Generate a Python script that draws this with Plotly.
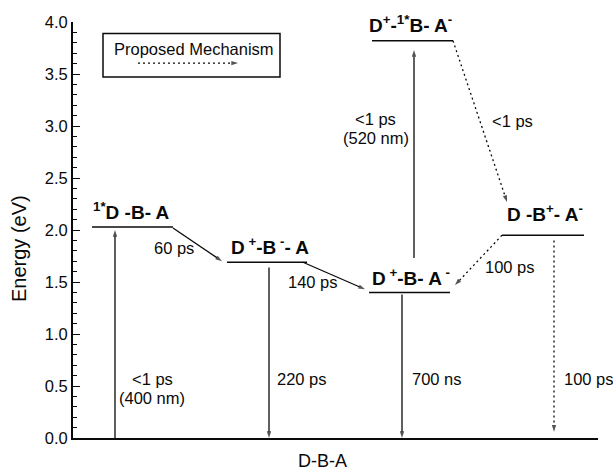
import plotly.graph_objects as go

# ---- energy-level data (eV) ----
state_labels = [
    "<sup>1*</sup>D -B- A",
    "D<sup> +</sup>-B<sup> -</sup>- A",
    "D<sup> +</sup>-B- A<sup> -</sup>",
    "D<sup>+</sup>-<sup>1*</sup>B- A<sup>-</sup>",
    "D -B<sup>+</sup>- A<sup>-</sup>",
]
state_energy = [2.03, 1.69, 1.40, 3.82, 1.95]

# transitions between states (-1 = ground state at 0 eV)
trans_from = [-1, 0, 1, 1, 2, 2, 3, 4, 4]
trans_to = [0, 1, -1, 2, -1, 3, 4, 2, -1]
trans_time = ["<1 ps", "60 ps", "220 ps", "140 ps", "700 ns", "<1 ps", "<1 ps", "100 ps", "100 ps"]
trans_wavelength = ["(400 nm)", "", "", "", "", "(520 nm)", "", "", ""]
trans_proposed = [False, False, False, False, False, False, True, True, True]

# ---- drawing layout ----
X_RANGE = [0, 5.25]
Y_RANGE = [0, 4.0]
state_x0 = [0.19, 1.54, 2.96, 2.99, 4.29]
state_x1 = [1.00, 2.34, 3.77, 3.80, 5.11]
state_label_x = [0.58, 1.97, 3.38, 3.37, 4.72]
state_label_shift = [2, 2, 1, 3, 8]

# arrow x positions (start, end) and gaps from the levels they connect
arrow_x0 = [0.42, 1.00, 1.96, 2.30, 3.29, 3.41, 3.80, 4.29, 4.81]
arrow_x1 = [0.42, 1.49, 1.96, 2.92, 3.29, 3.41, 4.34, 3.82, 4.81]
arrow_gap0 = [0.0, -0.01, -0.05, 0.0, -0.02, 0.33, 0.0, 0.0, -0.05]
arrow_gap1 = [-0.03, 0.01, 0.0, 0.03, 0.0, -0.09, 0.32, 0.07, 0.06]

# time-constant label positions
label_x = [0.79, 1.01, 2.02, 2.40, 3.37, 3.025, 4.17, 4.10, 4.89]
label_y = [0.57, 1.83, 0.57, 1.50, 0.57, 3.07, 3.05, 1.64, 0.57]
label_anchor = ["center", "center", "left", "center", "left", "center", "left", "left", "left"]
note_dy = 0.19

FONT = "Liberation Sans, Arial, sans-serif"
INK = "#0a0a0a"


def level_energy(i):
    return 0.0 if i < 0 else state_energy[i]


fig = go.Figure()

# energy levels
for x0, x1, e in zip(state_x0, state_x1, state_energy):
    fig.add_trace(go.Scatter(
        x=[x0, x1], y=[e, e], mode="lines",
        line=dict(color=INK, width=1.5), hoverinfo="skip", cliponaxis=False,
    ))

# transition arrows
for k in range(len(trans_from)):
    y0 = level_energy(trans_from[k]) + arrow_gap0[k]
    y1 = level_energy(trans_to[k]) + arrow_gap1[k]
    dash = "2px,3px" if trans_proposed[k] else "solid"
    fig.add_trace(go.Scatter(
        x=[arrow_x0[k], arrow_x1[k]], y=[y0, y1], mode="lines+markers",
        line=dict(color=INK, width=1.3, dash=dash),
        marker=dict(symbol="arrow", size=[0, 7], angleref="previous", color=INK,
                    line=dict(width=0)),
        hoverinfo="skip", cliponaxis=False,
    ))

annotations = []
for lab, x, e, s in zip(state_labels, state_label_x, state_energy, state_label_shift):
    annotations.append(dict(
        x=x, y=e, xref="x", yref="y", text="<b>" + lab + "</b>", showarrow=False,
        xanchor="center", yanchor="bottom", yshift=s,
        font=dict(family=FONT, size=19, color=INK),
    ))

for k in range(len(trans_time)):
    annotations.append(dict(
        x=label_x[k], y=label_y[k], xref="x", yref="y", text=trans_time[k],
        showarrow=False, xanchor=label_anchor[k], yanchor="middle",
        font=dict(family=FONT, size=16.5, color=INK),
    ))
    if trans_wavelength[k]:
        annotations.append(dict(
            x=label_x[k], y=label_y[k] - note_dy, xref="x", yref="y",
            text=trans_wavelength[k], showarrow=False, xanchor=label_anchor[k],
            yanchor="middle", font=dict(family=FONT, size=16.5, color=INK),
        ))

# legend box for the proposed mechanism
fig.add_shape(type="rect", xref="x", yref="y", x0=0.30, x1=2.07, y0=3.47, y1=3.89,
              line=dict(color=INK, width=1.5))
annotations.append(dict(
    x=1.21, y=3.745, xref="x", yref="y", text="Proposed Mechanism", showarrow=False,
    xanchor="center", yanchor="middle", font=dict(family=FONT, size=16.5, color=INK),
))
fig.add_trace(go.Scatter(
    x=[0.65, 1.65], y=[3.605, 3.605], mode="lines+markers",
    line=dict(color=INK, width=1.3, dash="2px,3px"),
    marker=dict(symbol="arrow", size=[0, 7], angleref="previous", color=INK,
                line=dict(width=0)),
    hoverinfo="skip", cliponaxis=False,
))

# axis titles
annotations.append(dict(
    x=(19 - 73) / 525, y=(438 - 249) / 416, xref="paper", yref="paper", text="Energy (eV)",
    textangle=-90, showarrow=False, xanchor="center", yanchor="middle",
    font=dict(family=FONT, size=20, color=INK),
))
annotations.append(dict(
    x=(322 - 73) / 525, y=-(472 - 438) / 416, xref="paper", yref="paper", text="D-B-A",
    showarrow=False, xanchor="center", yanchor="bottom", borderpad=0,
    font=dict(family=FONT, size=18, color=INK),
))

fig.update_layout(
    width=613, height=473,
    margin=dict(l=73, r=15, t=22, b=35),
    paper_bgcolor="white", plot_bgcolor="white",
    showlegend=False,
    annotations=annotations,
    xaxis=dict(range=X_RANGE, showgrid=False, zeroline=False, showticklabels=False,
               ticks="", showline=True, linecolor=INK, linewidth=2, fixedrange=True),
    yaxis=dict(range=Y_RANGE, showgrid=False, zeroline=False, showline=True,
               linecolor=INK, linewidth=2, ticks="inside", ticklen=7, tickwidth=1.2,
               tickcolor=INK, dtick=0.5, tickformat=".1f",
               tickfont=dict(family=FONT, size=16.5, color=INK),
               minor=dict(dtick=0.1, ticks="inside", ticklen=4, tickwidth=1, tickcolor=INK),
               fixedrange=True),
)

fig.write_html("out.html")
